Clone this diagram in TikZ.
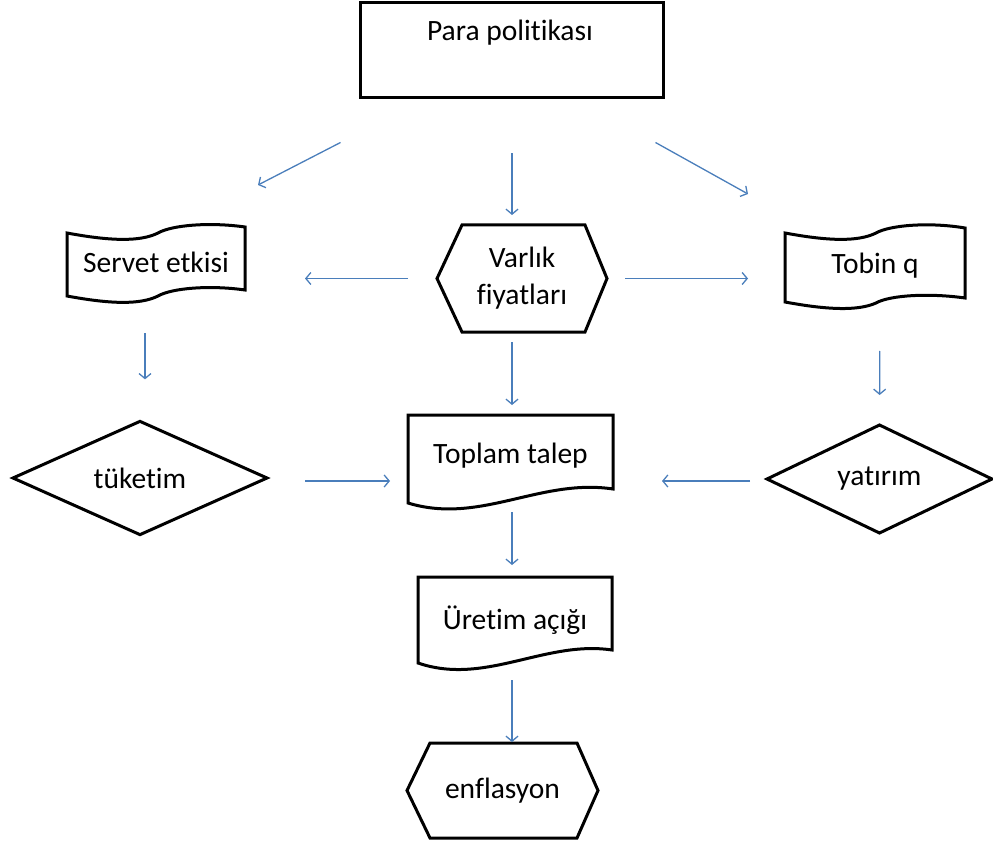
\documentclass[tikz,border=0pt]{standalone}
\usepackage{fontspec}
\setmainfont{Carlito}[Ligatures=CommonOff]
\usetikzlibrary{arrows.meta,shapes.geometric,calc}
\definecolor{flowblue}{RGB}{74,126,187}
\begin{document}
\begin{tikzpicture}[x=1pt,y=-1pt,
  outline/.style={draw=black,line width=3pt,line join=miter},
  holder/.style={inner sep=0pt,outer sep=0pt,font=\fontsize{29.5}{37}\selectfont,align=center},
  conn/.style={draw=flowblue,line width=1.3pt,-{Straight Barb[length=5pt,width=12pt]}},
]
\useasboundingbox (0,0) rectangle (993,845);

% --- nodes -------------------------------------------------------------
\node[outline,rectangle,minimum width=303pt,minimum height=95pt,inner sep=0pt] (para) at (511.5,50.5) {};
\node[holder] (paratxt) at (510,33) {Para politikası};

\node[holder,minimum width=178pt,minimum height=70pt] (servet) at (156,262) {Servet etkisi};
\node[holder,minimum width=170pt,minimum height=107pt] (vf) at (522,278.5) {Varlık\\fiyatları};
\node[holder,minimum width=180pt,minimum height=74pt] (tobin) at (875,266) {Tobin q};

\node[outline,diamond,holder,minimum width=254pt,minimum height=106pt] (tk) at (140,478) {tüketim};
\node[holder,minimum width=205pt,minimum height=82pt] (tt) at (510.5,456) {Toplam talep};
\node[outline,diamond,holder,minimum width=225pt,minimum height=108pt] (yt) at (879.5,479) {yatırım};

\node[holder,minimum width=194pt,minimum height=86pt] (ua) at (515,620) {Üretim açığı};
\node[holder,minimum width=191pt,minimum height=95pt] (enf) at (502.5,790.5) {enflasyon};

% --- outlines of the custom shapes -------------------------------------
% punched tape: Servet etkisi
\draw[outline] (67,233) .. controls (110,241) and (140,242) .. (158,233)
  .. controls (172,225) and (210,222) .. (245,227) -- (245,290)
  .. controls (210,285) and (172,288) .. (158,296)
  .. controls (140,305) and (110,304) .. (67,296) -- cycle;
% punched tape: Tobin q
\draw[outline] (785,233) .. controls (828,241) and (858,242) .. (876,233)
  .. controls (890,225) and (930,222) .. (965,228) -- (965,298)
  .. controls (930,293) and (890,295) .. (876,303)
  .. controls (858,311) and (828,310) .. (785,302) -- cycle;
% hexagon: Varlık fiyatları
\draw[outline] (437,278.5) -- (462,225) -- (585,225) -- (607,278.5) -- (585,332) -- (462,332) -- cycle;
% document: Toplam talep
\draw[outline] (408,415) -- (613,415) -- (613,489)
  .. controls (540,478) and (480,525) .. (408,503) -- cycle;
% document: Üretim açığı
\draw[outline] (418,577) -- (612,577) -- (612,650)
  .. controls (545,640) and (485,686) .. (418,663) -- cycle;
% hexagon: enflasyon
\draw[outline] (407,790.5) -- (430,743) -- (577,743) -- (598,790.5) -- (577,838) -- (430,838) -- cycle;

% --- connectors --------------------------------------------------------
\coordinate (axis) at (512,0);
\draw[conn] ([shift={(-18,43)}]para.south west) -- ([shift={(13,-42)}]servet.north east);
\draw[conn,shorten <=54pt,shorten >=10pt] (para.south -| axis) -- (vf.north -| axis);
\draw[conn] ([shift={(-9,43)}]para.south east) -- ([shift={(-37,-35)}]tobin.north west);

\draw[conn,shorten <=29pt,shorten >=60pt] (vf.west) -- (vf.west -| servet.east);
\draw[conn,shorten <=18pt,shorten >=37pt] (vf.east) -- (vf.east -| tobin.west);

\draw[conn,shorten <=36pt,shorten >=42pt] ([xshift=-11pt]servet.south) -- ([xshift=5pt]tk.north);
\draw[conn,shorten <=10pt,shorten >=10pt] (vf.south -| axis) -- (tt.north -| axis);
\draw[conn,shorten <=48pt,shorten >=30pt] ([xshift=5pt]tobin.south) -- (yt.north);

\draw[conn,shorten <=38pt,shorten >=18pt] ([yshift=-3pt]tk.east) -- ([yshift=-3pt]tk.east -| tt.west);
\draw[conn,shorten <=17pt,shorten >=49pt] ([yshift=-2pt]yt.west) -- ([yshift=-2pt]yt.west -| tt.east);

\draw[conn,shorten <=15pt,shorten >=12pt] (tt.south -| axis) -- (ua.north -| axis);
\draw[conn,shorten <=17pt,shorten >=1pt] (ua.south -| axis) -- (enf.north -| axis);
\end{tikzpicture}
\end{document}
